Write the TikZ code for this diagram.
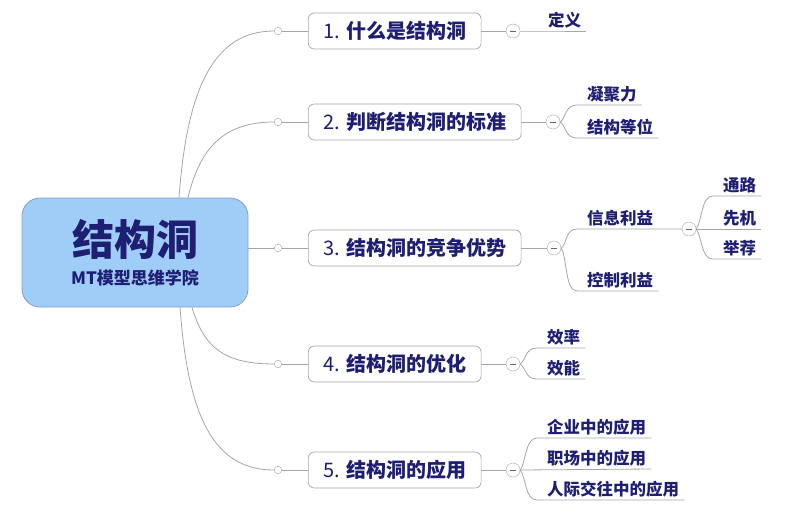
\documentclass[tikz,border=0pt]{standalone}
\usepackage{fontspec}
\setmainfont{Noto Sans CJK SC}
\usetikzlibrary{calc}

\definecolor{navy}{RGB}{30,30,115}
\definecolor{linegray}{RGB}{165,165,165}
\definecolor{rootblue}{RGB}{160,205,248}
\definecolor{rootedge}{RGB}{125,160,200}

\begin{document}
\begin{tikzpicture}[x=1pt,y=-1pt,
  root/.style={draw=rootedge, fill=rootblue, rounded corners=18pt, minimum width=226pt, minimum height=109pt, align=center, text=navy, font=\bfseries, line width=0.8pt},
  topic/.style={draw=linegray, fill=white, rounded corners=6pt, minimum height=36pt, inner xsep=15pt, text=navy, font=\fontsize{20}{24}\selectfont\bfseries, anchor=west, line width=0.7pt},
  leaf/.style={inner xsep=4pt, inner ysep=3pt, text=navy, font=\fontsize{16.5}{20}\selectfont\bfseries, anchor=south west},
  dot/.style={circle, draw=linegray, fill=white, minimum size=7.5pt, inner sep=0pt},
  fold/.style={circle, draw=linegray, fill=white, minimum size=14pt, inner sep=0pt,
    path picture={\draw[black!60] ([xshift=-3pt]path picture bounding box.center) -- ([xshift=3pt]path picture bounding box.center);}},
  link/.style={draw=linegray, line width=0.8pt}]
  \useasboundingbox (0,0) rectangle (800,506);

  \node[root] (root) at (135,252.5) {{\fontsize{42}{44}\selectfont 结构洞}\\[9pt]{\fontsize{17}{20}\selectfont MT模型思维学院}};

  \node[dot] (d1) at (278,31) {};
  \node[dot] (d2) at (278,122) {};
  \node[dot] (d3) at (278,248) {};
  \node[dot] (d4) at (278,364) {};
  \node[dot] (d5) at (278,470) {};

  \node[topic] (t1) at (308,31) {{\mdseries 1.} 什么是结构洞};
  \node[topic] (t2) at (308,122) {{\mdseries 2.} 判断结构洞的标准};
  \node[topic] (t3) at (308,248) {{\mdseries 3.} 结构洞的竞争优势};
  \node[topic] (t4) at (308,364) {{\mdseries 4.} 结构洞的优化};
  \node[topic] (t5) at (308,470) {{\mdseries 5.} 结构洞的应用};

  \node[fold] (m1) at (513,31) {};
  \node[fold] (m2) at (553,122) {};
  \node[fold] (m3) at (554,248) {};
  \node[fold] (m3b) at (689,229) {};
  \node[fold] (m4) at (513,364) {};
  \node[fold] (m5) at (513,470) {};

  \node[leaf] (l1) at (544,31) {定义};
  \node[leaf] (l21) at (583,105) {凝聚力};
  \node[leaf] (l22) at (583,138) {结构等位};
  \node[leaf] (l31) at (583,229) {信息利益};
  \node[leaf] (l32) at (583,291) {控制利益};
  \node[leaf] (l311) at (719,196) {通路};
  \node[leaf] (l312) at (719,229) {先机};
  \node[leaf] (l313) at (719,259) {举荐};
  \node[leaf] (l41) at (543,348) {效率};
  \node[leaf] (l42) at (543,379) {效能};
  \node[leaf] (l51) at (543,438) {企业中的应用};
  \node[leaf] (l52) at (543,469) {职场中的应用};
  \node[leaf] (l53) at (543,500) {人际交往中的应用};

  \draw[link] ([xshift=44pt]root.north) .. controls +(8,-110) and +(-60,0) .. (d1.west);
  \draw[link] ([xshift=53pt]root.north) .. controls +(12,-50) and +(-50,0) .. (d2.west);
  \draw[link] (root.east |- d3) -- (d3.west);
  \draw[link] ([xshift=57pt]root.south) .. controls +(12,40) and +(-50,0) .. (d4.west);
  \draw[link] ([xshift=45pt]root.south) .. controls +(8,110) and +(-60,0) .. (d5.west);

  \draw[link] (d1) -- (t1);
  \draw[link] (d2) -- (t2);
  \draw[link] (d3) -- (t3);
  \draw[link] (d4) -- (t4);
  \draw[link] (d5) -- (t5);

  \draw[link] (t1) -- (m1);
  \draw[link] (t2) -- (m2);
  \draw[link] (t3) -- (m3);
  \draw[link] (t4) -- (m4);
  \draw[link] (t5) -- (m5);

  \draw[link] (m1) -- (l1.south west) -- ([xshift=1pt]l1.south east);
  \draw[link] (m2.east) .. controls +(6,-4) and +(-12,0) .. ([xshift=-6pt]l21.south west) -- ([xshift=1pt]l21.south east);
  \draw[link] (m2.east) .. controls +(6,4) and +(-12,0) .. ([xshift=-6pt]l22.south west) -- ([xshift=1pt]l22.south east);
  \draw[link] (m3.east) .. controls +(6,-4) and +(-12,0) .. ([xshift=-6pt]l31.south west) -- (m3b.west);
  \draw[link] (m3.east) .. controls +(6,10) and +(-12,0) .. ([xshift=-6pt]l32.south west) -- ([xshift=1pt]l32.south east);
  \draw[link] (m3b.east) .. controls +(6,-8) and +(-12,0) .. ([xshift=-6pt]l311.south west) -- ([xshift=1pt]l311.south east);
  \draw[link] (m3b.east) -- ([xshift=1pt]l312.south east);
  \draw[link] (m3b.east) .. controls +(6,8) and +(-12,0) .. ([xshift=-6pt]l313.south west) -- ([xshift=1pt]l313.south east);
  \draw[link] (m4.east) .. controls +(6,-4) and +(-12,0) .. ([xshift=-6pt]l41.south west) -- ([xshift=1pt]l41.south east);
  \draw[link] (m4.east) .. controls +(6,4) and +(-12,0) .. ([xshift=-6pt]l42.south west) -- ([xshift=1pt]l42.south east);
  \draw[link] (m5.east) .. controls +(6,-8) and +(-12,0) .. ([xshift=-6pt]l51.south west) -- ([xshift=1pt]l51.south east);
  \draw[link] (m5.east) -- ([xshift=1pt]l52.south east);
  \draw[link] (m5.east) .. controls +(6,8) and +(-12,0) .. ([xshift=-6pt]l53.south west) -- ([xshift=1pt]l53.south east);
\end{tikzpicture}
\end{document}
